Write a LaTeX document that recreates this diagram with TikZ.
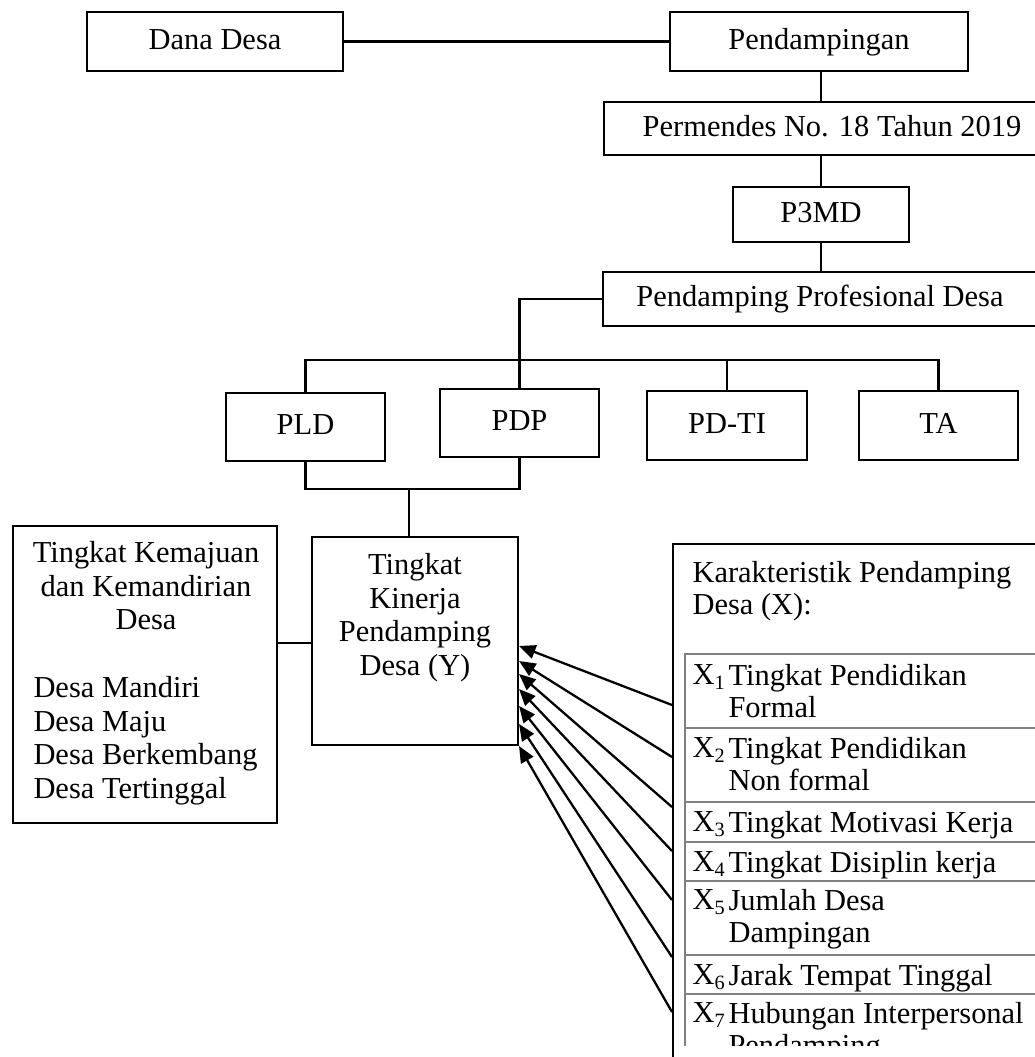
\documentclass[tikz,border=0pt]{standalone}
\usepackage{fontspec}
\setmainfont{Liberation Serif}
\usetikzlibrary{arrows.meta,calc,positioning}
\newcommand{\pxl}{0.394pt}

\begin{document}
\begin{tikzpicture}[x=0.394pt,y=-0.394pt,
        font=\fontsize{12}{13.2}\selectfont,
        kotak/.style={draw,line width=0.8pt,inner sep=0pt},
        judul/.style={kotak,text height=8.2pt,text depth=2.2pt},
        garis/.style={line width=0.8pt},
        baris/.style={draw=gray,line width=0.6pt},
        isian/.style={align=left,anchor=north west,inner sep=0pt,font=\fontsize{12}{12.6}\selectfont},
        panah/.style={line width=0.9pt,-{Triangle[length=6.5pt,width=5.5pt]}}]
    \useasboundingbox (0,0) rectangle (1035,1057);
    \clip (0,0) rectangle (1035,1057);
    % alur atas
    \node[judul,minimum width=256*\pxl,minimum height=59*\pxl] (dana) at (215,41.5) {Dana Desa};
    \node[judul,minimum width=298*\pxl,minimum height=59*\pxl] (pend) at (819,41.5) {Pendampingan};
    \node[judul,minimum width=456*\pxl,minimum height=53*\pxl] (perm) at (832,128.5) {Permendes No. 18 Tahun 2019};
    \node[judul,minimum width=176*\pxl,minimum height=55*\pxl] (p3md) at (821,214.5) {P3MD};
    \node[judul,minimum width=434*\pxl,minimum height=54*\pxl] (ppd) at (820,299) {Pendamping Profesional Desa};
    % empat pendamping
    \node[judul,minimum width=159*\pxl,minimum height=68*\pxl] (pld) at (305.5,427) {PLD};
    \node[judul,minimum width=159*\pxl,minimum height=68*\pxl] (pdp) at (519.5,423) {PDP};
    \node[judul,minimum width=160*\pxl,minimum height=69*\pxl] (pdti) at (727,425.5) {PD-TI};
    \node[judul,minimum width=159*\pxl,minimum height=69*\pxl] (ta) at (938.5,425.5) {TA};
    % kotak bawah
    \node[kotak,minimum width=264*\pxl,minimum height=297*\pxl] (kem) at (145,674.5) {};
    \node[kotak,minimum width=206*\pxl,minimum height=208*\pxl] (kin) at (415,641) {};
    \node[kotak,anchor=north west,minimum width=420*\pxl,minimum height=560*\pxl] (kar) at (672,543) {};
    \node[align=center,anchor=north,inner sep=0pt] (kintxt) at (415,553) {Tingkat\\Kinerja\\Pendamping\\Desa (Y)};
    \node[align=center,anchor=north,inner sep=0pt] (kemtxt) at (146,541) {Tingkat Kemajuan\\dan Kemandirian\\Desa};
    \node[align=left,anchor=north west,inner sep=0pt] (kemdaftar) at (33,676) {Desa Mandiri\\Desa Maju\\Desa Berkembang\\Desa Tertinggal};
    \node[isian] (kartxt) at (692,561) {Karakteristik Pendamping\\Desa (X):};
    \begin{scope}
        \clip (0,0) rectangle (1035,1045);
        \foreach \a/\b in {654/728,728/802,802/842,842/881,881/955,955/994,994/1090}
            \draw[baris] (685,\a) rectangle (1060,\b);
        \foreach \i/\y/\teks in {1/664/{Tingkat Pendidikan\\Formal},2/737/{Tingkat Pendidikan\\Non formal},
                3/811/{Tingkat Motivasi Kerja},4/851/{Tingkat Disiplin kerja},5/889/{Jumlah Desa\\Dampingan},
                6/964/{Jarak Tempat Tinggal},7/1002/{Hubungan Interpersonal\\Pendamping}}{
            \node[isian] (x\i) at (692,\y) {X\textsubscript{\i}};
            \node[isian] (t\i) at (728,\y) {\teks};
        }
    \end{scope}
    % garis penghubung
    \coordinate (tengah) at (821,0);
    \coordinate (atas) at (0,360);
    \coordinate (bawah) at (409,489);
    \coordinate (hub) at (0,643);
    \draw[garis] (dana) -- (pend);
    \draw[garis] (tengah |- pend.south) -- (tengah |- perm.north);
    \draw[garis] (tengah |- perm.south) -- (tengah |- p3md.north);
    \draw[garis] (tengah |- p3md.south) -- (tengah |- ppd.north);
    \draw[garis] (ppd.west) -| (pdp.north);
    \draw[garis] (pld.north) -- (pld.north |- atas) -| (ta.north);
    \draw[garis] (pdti.north) -- (pdti.north |- atas);
    \draw[garis] (pld.south) |- (bawah) -| (pdp.south);
    \draw[garis] (bawah) -- (bawah |- kin.north);
    \draw[garis] (kem.east |- hub) -- (kin.west |- hub);
    % panah karakteristik ke kinerja
    \foreach \i/\s/\t in {1/162/110,2/214/125,3/264/138,4/308/153,5/357/170,6/414/188,7/469/210}{
        \coordinate (a\i) at ($(kar.north west)+(0,\s)$);
        \coordinate (b\i) at ($(kin.north east)+(0,\t)$);
        \draw[panah] (a\i) -- (b\i);
    }
\end{tikzpicture}
\end{document}
